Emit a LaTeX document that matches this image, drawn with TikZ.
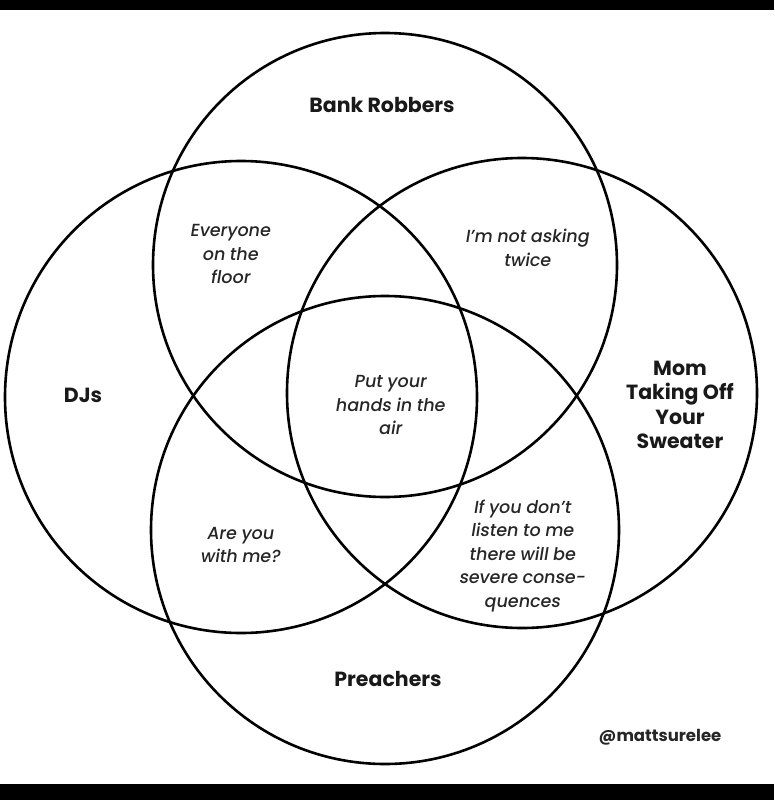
\documentclass[tikz,border=0pt]{standalone}
\usepackage{fontspec}
\setmainfont{Poppins}
\newfontfamily\boldf{Poppins Bold}
\newfontfamily\obl{Poppins Medium}[FakeSlant=0.16]
\begin{document}
\begin{tikzpicture}[x=1pt,y=-1pt,
  ring/.style={draw=black,line width=2.6pt},
  setlbl/.style={font=\boldf\fontsize{20.5}{24.5}\selectfont,align=center,text=black!90},
  zone/.style={font=\obl\fontsize{17.5}{23.5}\selectfont,align=center,text=black!85},
  credit/.style={font=\boldf\fontsize{16.5}{18}\selectfont,text=black!85}]
\useasboundingbox (0,0) rectangle (774,800);
\fill[black] (0,0) rectangle (774,10);
\fill[black] (0,784) rectangle (774,800);
% circles
\draw[ring] (385,265) circle (232pt);
\draw[ring] (241,397) circle (236pt);
\draw[ring] (522,393) circle (235pt);
\draw[ring] (385,530) circle (234pt);
% set labels
\node[setlbl] (bank) at (382,105) {Bank Robbers};
\node[setlbl] (djs) at (83,395) {DJs};
\node[setlbl] (mom) at (680,405) {Mom\\Taking Off\\Your\\Sweater};
\node[setlbl] (preach) at (388,679) {Preachers};
% zone labels
\node[zone] (floor) at (230,254) {Everyone\\on the\\floor};
\node[zone] (twice) at (527,248) {I’m not asking\\twice};
\node[zone] (hands) at (390,405) {Put your\\hands in the\\air};
\node[zone] (withme) at (240,545) {Are you\\with me?};
\node[zone] (conseq) at (522,556) {If you don’t\\listen to me\\there will be\\severe conse-\\quences};
\node[credit] (handle) at (660,737) {@mattsurelee};
\end{tikzpicture}
\end{document}
